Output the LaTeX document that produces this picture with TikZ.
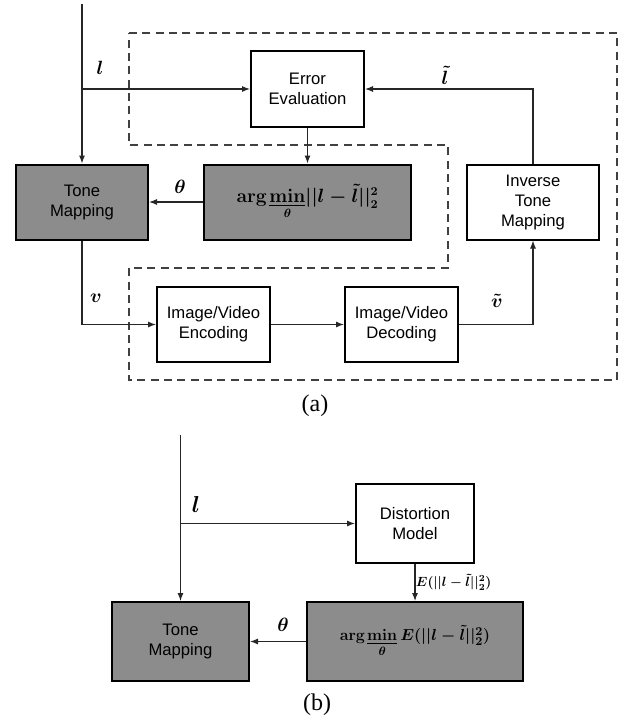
\documentclass[tikz,border=0pt]{standalone}
\usepackage{amsmath, amssymb}
\usepackage{fontspec}
\setmainfont{Liberation Serif}
\setsansfont{Liberation Sans}
\usepackage{tikz}
\usetikzlibrary{arrows.meta, calc, positioning}
\usepackage{xcolor}
\definecolor{boxgray}{RGB}{140,140,140}

\begin{document}
\begin{tikzpicture}[x=0.75pt, y=-0.75pt,
  every node/.style={align=center},
  block/.style={draw, line width=1.5pt, font=\sffamily\fontsize{12.5}{15}\selectfont, inner sep=2pt},
  solver/.style={block, fill=boxgray, font=\fontsize{13.5}{15}\selectfont\boldmath},
  arr/.style={-{Latex[length=6pt,width=4.5pt]}, draw=black!85, line width=0.8pt},
  sig/.style={font=\fontsize{14}{15}\selectfont\boldmath},
  frame/.style={draw=black!75, line width=0.9pt, dash pattern=on 6pt off 4pt},
  caption/.style={font=\fontsize{18}{20}\selectfont}]
\useasboundingbox (0,0) rectangle (629,721);

% (a) Base nodes
\node (EE) [block, minimum width=84.75pt, minimum height=57pt] at (307.5,89) {Error\\Evaluation};
\node (TMa) [solver, font=\sffamily\fontsize{12.5}{15}\selectfont, minimum width=99pt, minimum height=56.25pt] at (82,202) {Tone\\Mapping};
\node (Opt) [solver, minimum width=155.25pt, minimum height=56.25pt] at (307.5,202)
  {$\mathbf{arg}\mkern2mu\underset{\theta}{\underline{\mathbf{min}}}||l-\tilde{l}||_2^2$};
\node (ITM) [block, minimum width=99pt, minimum height=56.25pt] at (533,202) {Inverse\\Tone\\Mapping};
\node (Enc) [block, minimum width=84.75pt, minimum height=56.25pt] at (213.5,324.5) {Image/Video\\Encoding};
\node (Dec) [block, minimum width=84.75pt, minimum height=56.25pt] at (401.5,324.5) {Image/Video\\Decoding};
\coordinate (inA) at (82,4);

% Dashed frame
\draw[frame] (129,33) -- (617,33) -- (617,380) -- (129,380) -- (129,268)
  -- (448,268) -- (448,145) -- (129,145) -- cycle;

% (a) Arrows
\draw[arr] (inA) -- (TMa);
\draw[arr] (inA |- EE) -- (EE);
\draw[arr] (EE) -- (Opt);
\draw[arr] (Opt) -- (TMa);
\draw[arr] (ITM.north) |- (EE.east);
\draw[arr] (TMa.south) |- (Enc.west);
\draw[arr] (Enc) -- (Dec);
\draw[arr] (Dec.east) -| (ITM.south);

% (a) Signals
\node (la) [sig] at (100,68) {$l$};
\node (tha) [sig] at (180,187) {$\theta$};
\node (lt) [sig] at (445,75) {$\tilde{l}$};
\node (va) [sig] at (96,298) {$v$};
\node (vt) [sig] at (497,301) {$\tilde{v}$};
\node (capa) [caption] at (315,406) {(a)};

% (b) Base nodes
\node (DM) [block, minimum width=88.5pt, minimum height=59.25pt] at (415,523.5) {Distortion\\Model};
\node (TMb) [solver, font=\sffamily\fontsize{12.5}{15}\selectfont, minimum width=102.75pt, minimum height=59.25pt] at (180.5,641.5) {Tone\\Mapping};
\node (OptE) [solver, font=\fontsize{13}{15}\selectfont\boldmath, minimum width=162pt, minimum height=59.25pt] at (415,641.5)
  {$\mathbf{arg}\mkern2mu\underset{\theta}{\underline{\mathbf{min}}}\,E(||l-\tilde{l}||_2^2)$};
\coordinate (inB) at (180.5,435);

% (b) Arrows
\draw[arr] (inB) -- (TMb);
\draw[arr] (inB |- DM) -- (DM);
\draw[arr] (DM) -- node[right, xshift=-3pt, font=\fontsize{10}{12}\selectfont\boldmath] {$E(||l-\tilde{l}||_2^2)$} (OptE);
\draw[arr] (OptE) -- (TMb);

% (b) Signals
\node (lb) [sig, font=\fontsize{16}{17}\selectfont\boldmath] at (196,504) {$l$};
\node (thb) [sig] at (283,625) {$\theta$};
\node (capb) [caption] at (317,705) {(b)};
\end{tikzpicture}
\end{document}
